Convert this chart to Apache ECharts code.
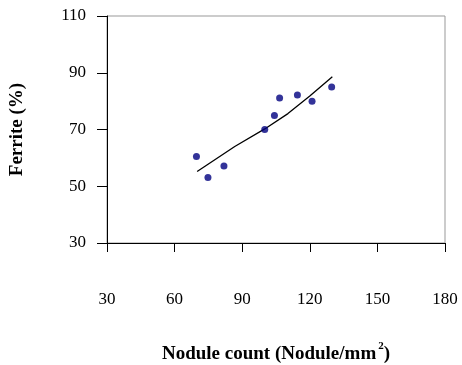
<!DOCTYPE html>
<html>
<head>
<meta charset="utf-8">
<script src="https://cdn.jsdelivr.net/npm/echarts@6/dist/echarts.min.js"></script>
<style>
  html, body { margin: 0; padding: 0; background: #fff; }
  #main { width: 462px; height: 365px; }
</style>
</head>
<body>
<div id="main"></div>
<script>
// measured points (nodule count, ferrite %)
var noduleCount = [69.7, 74.8, 81.9, 100, 104.3, 106.6, 114.5, 121, 129.7];
var ferrite = [60.5, 53.1, 57.1, 70, 74.9, 81.1, 82.2, 80, 85];
// trend line
var trendX = [70, 86.7, 100, 110.3, 120, 130];
var trendY = [55.2, 64, 70.2, 75.6, 81.8, 88.6];
var xTicks = [30, 60, 90, 120, 150, 180];
var yTicks = [30, 50, 70, 90, 110];

var font = "'Liberation Serif', 'Times New Roman', serif";

var points = noduleCount.map(function (x, i) { return [x, ferrite[i]]; });
var trend = trendX.map(function (x, i) { return [x, trendY[i]]; });

var myChart = echarts.init(document.getElementById("main"));
myChart.setOption({
  animation: false,
  grid: {
    left: 107,
    right: 17,
    top: 16,
    bottom: 122,
    outerBoundsMode: "none",
    show: true,
    borderColor: "#999",
    borderWidth: 1,
  },
  xAxis: {
    type: "value",
    min: xTicks[0],
    max: xTicks[xTicks.length - 1],
    interval: 30,
    name: "{t|Nodule count (Nodule/mm}{s|2}{t|)}",
    nameLocation: "middle",
    nameGap: 98,
    nameTextStyle: {
      rich: {
        t: { fontFamily: font, fontWeight: "bold", fontSize: 19, color: "#000" },
        s: { fontFamily: font, fontWeight: "bold", fontSize: 11, color: "#000", verticalAlign: "top", padding: [0, 0, 16, 2] },
      },
    },
    axisLine: { lineStyle: { color: "#000", width: 1 } },
    axisTick: { length: 9, lineStyle: { color: "#000" } },
    axisLabel: { margin: 48, fontFamily: font, fontSize: 17, color: "#000" },
    splitLine: { show: false },
  },
  yAxis: {
    type: "value",
    min: yTicks[0],
    max: yTicks[yTicks.length - 1],
    interval: 20,
    name: "Ferrite (%)",
    nameLocation: "middle",
    nameGap: 80,
    nameTextStyle: { fontFamily: font, fontWeight: "bold", fontSize: 19, color: "#000" },
    axisLine: { show: true, lineStyle: { color: "#000", width: 1 } },
    axisTick: { show: true, length: 10, lineStyle: { color: "#000" } },
    axisLabel: { margin: 21, fontFamily: font, fontSize: 17, color: "#000" },
    splitLine: { show: false },
  },
  series: [
    {
      name: "Trend",
      type: "line",
      data: trend,
      showSymbol: false,
      lineStyle: { color: "#000", width: 1.3 },
      z: 2,
    },
    {
      name: "Ferrite",
      type: "scatter",
      data: points,
      symbolSize: 7,
      itemStyle: { color: "#000080" },
      z: 3,
    },
  ],
});
</script>
</body>
</html>
